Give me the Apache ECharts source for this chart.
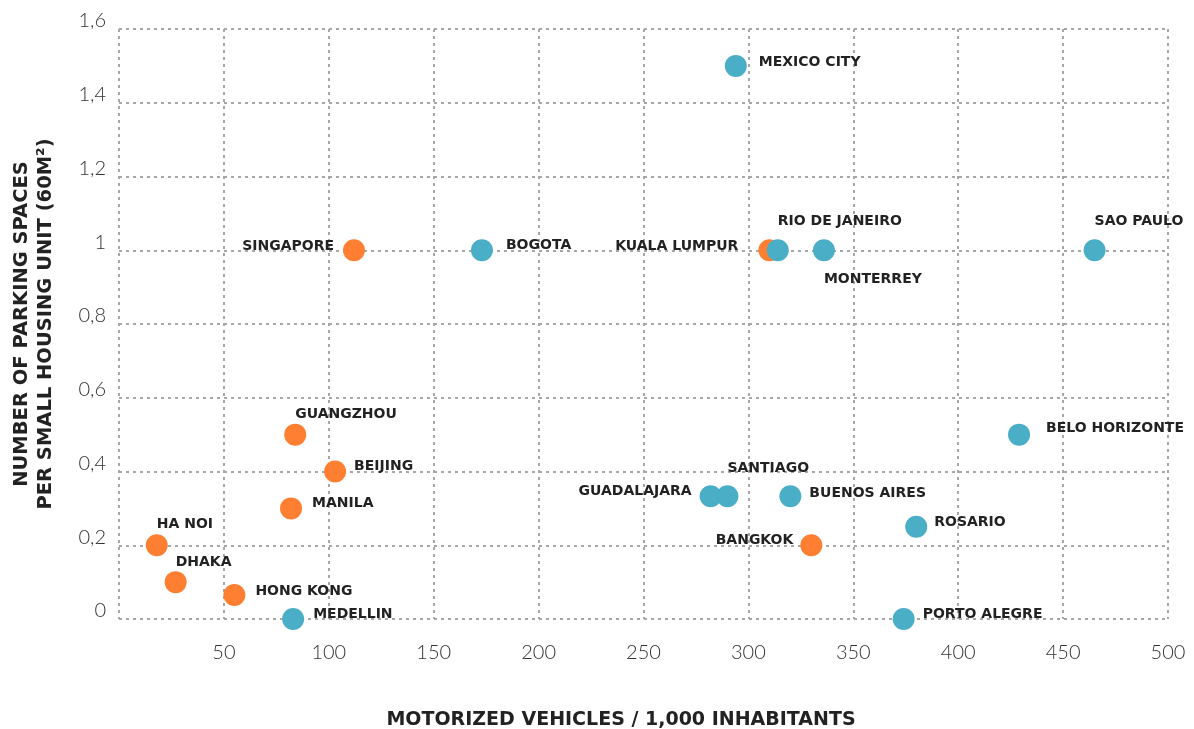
<!DOCTYPE html>
<html>
<head>
<meta charset="utf-8">
<script src="https://cdn.jsdelivr.net/npm/echarts@6/dist/echarts.min.js"></script>
<style>
  html, body { margin: 0; padding: 0; background: #fff; }
  #chart { width: 1194px; height: 729px; }
</style>
</head>
<body>
<div id="chart"></div>
<script>
// orange cities (Asia)
var asiaCities = ['SINGAPORE', 'KUALA LUMPUR', 'GUANGZHOU', 'BEIJING', 'MANILA', 'HA NOI', 'DHAKA', 'HONG KONG', 'BANGKOK'];
var asiaVehicles = [112, 310, 84, 103, 82, 18, 27, 55, 330];
var asiaParking = [1, 1, 0.5, 0.4, 0.3, 0.2, 0.1, 0.065, 0.2];

// blue cities (Latin America)
var latamCities = ['MEXICO CITY', 'BOGOTA', 'RIO DE JANEIRO', 'MONTERREY', 'SAO PAULO', 'BELO HORIZONTE', 'GUADALAJARA', 'SANTIAGO', 'BUENOS AIRES', 'ROSARIO', 'PORTO ALEGRE', 'MEDELLIN'];
var latamVehicles = [294, 173, 314, 336, 465, 429, 282, 290, 320, 380, 374, 83];
var latamParking = [1.5, 1, 1, 1, 1, 0.5, 0.333, 0.333, 0.333, 0.25, 0, 0];

var xTicks = { min: 0, max: 500, interval: 50 };
var yTicks = { min: 0, max: 1.6, interval: 0.2 };

// where each city label sits
var labelPlace = {
    'SINGAPORE': { position: 'left', distance: 9, offset: [0, -4] },
    'KUALA LUMPUR': { position: 'left', distance: 20, offset: [0, -4] },
    'GUANGZHOU': { position: 'top', distance: 2, align: 'left' },
    'BEIJING': { position: 'right', distance: 8, offset: [0, -5] },
    'MANILA': { position: 'right', distance: 10, offset: [0, -5] },
    'HA NOI': { position: 'top', distance: 3, align: 'left' },
    'DHAKA': { position: 'top', distance: 2, align: 'left' },
    'HONG KONG': { position: 'right', distance: 10, offset: [0, -4] },
    'BANGKOK': { position: 'left', distance: 7, offset: [0, -5] },
    'MEXICO CITY': { position: 'right', distance: 12, offset: [0, -4] },
    'BOGOTA': { position: 'right', distance: 13, offset: [0, -5] },
    'RIO DE JANEIRO': { position: 'top', distance: 11, align: 'left' },
    'MONTERREY': { position: 'bottom', distance: 11, align: 'left' },
    'SAO PAULO': { position: 'top', distance: 11, align: 'left' },
    'BELO HORIZONTE': { position: 'right', distance: 16, offset: [0, -6] },
    'GUADALAJARA': { position: 'left', distance: 8, offset: [0, -5] },
    'SANTIAGO': { position: 'top', distance: 10, align: 'left' },
    'BUENOS AIRES': { position: 'right', distance: 8, offset: [0, -3] },
    'ROSARIO': { position: 'right', distance: 7, offset: [0, -4] },
    'PORTO ALEGRE': { position: 'right', distance: 8, offset: [0, -5] },
    'MEDELLIN': { position: 'right', distance: 9, offset: [0, -5] }
};

function buildPoints(names, xs, ys) {
    return names.map(function (n, i) {
        var p = labelPlace[n] || { position: 'right' };
        return {
            name: n,
            value: [xs[i], ys[i]],
            label: {
                position: p.position,
                distance: p.distance,
                offset: p.offset || [0, 0],
                align: p.align
            }
        };
    });
}

var gridDots = {
    show: true,
    lineStyle: { color: '#a7a7a7', width: 2, type: [3, 4] }
};

var cityLabel = {
    show: true,
    formatter: '{b}',
    color: '#222',
    fontFamily: 'DejaVu Sans',
    fontWeight: 'bold',
    fontSize: 14
};

var myChart = echarts.init(document.getElementById('chart'));

option = {
    backgroundColor: '#fff',
    animation: false,
    grid: { left: 119, right: 26, top: 29, bottom: 110, outerBoundsMode: 'none', containLabel: false },
    xAxis: {
        type: 'value',
        min: xTicks.min,
        max: xTicks.max,
        interval: xTicks.interval,
        name: 'MOTORIZED VEHICLES / 1,000 INHABITANTS',
        nameLocation: 'middle',
        nameGap: 92,
        nameMoveOverlap: false,
        nameTextStyle: {
            fontFamily: 'DejaVu Sans', fontWeight: 'bold', fontSize: 19, color: '#222',
            padding: [0, 45, 0, 0]
        },
        axisLine: { show: false },
        axisTick: { show: false },
        splitLine: gridDots,
        axisLabel: {
            margin: 24,
            fontFamily: 'Lato', fontWeight: 300, fontSize: 20, color: '#333',
            formatter: function (v) { return v === 0 ? '' : String(v); }
        }
    },
    yAxis: {
        type: 'value',
        min: yTicks.min,
        max: yTicks.max,
        interval: yTicks.interval,
        name: 'NUMBER OF PARKING SPACES\nPER SMALL HOUSING UNIT (60M²)',
        nameLocation: 'middle',
        nameGap: 61,
        nameMoveOverlap: false,
        nameTextStyle: {
            fontFamily: 'DejaVu Sans', fontWeight: 'bold', fontSize: 19.5, color: '#222',
            lineHeight: 24
        },
        axisLine: { show: false },
        axisTick: { show: false },
        splitLine: gridDots,
        axisLabel: {
            margin: 13,
            fontFamily: 'Lato', fontWeight: 300, fontSize: 20, color: '#333',
            verticalAlign: 'bottom',
            lineHeight: 16,
            formatter: function (v) { return String(+v.toFixed(1)).replace('.', ','); }
        }
    },
    series: [
        {
            name: 'Asia',
            type: 'scatter',
            symbolSize: 22,
            itemStyle: { color: '#ff7f32', opacity: 1 },
            label: cityLabel,
            data: buildPoints(asiaCities, asiaVehicles, asiaParking)
        },
        {
            name: 'Latin America',
            type: 'scatter',
            symbolSize: 22,
            itemStyle: { color: '#49aec6', opacity: 1 },
            label: cityLabel,
            data: buildPoints(latamCities, latamVehicles, latamParking)
        }
    ]
};
myChart.setOption(option);
</script>
</body>
</html>
